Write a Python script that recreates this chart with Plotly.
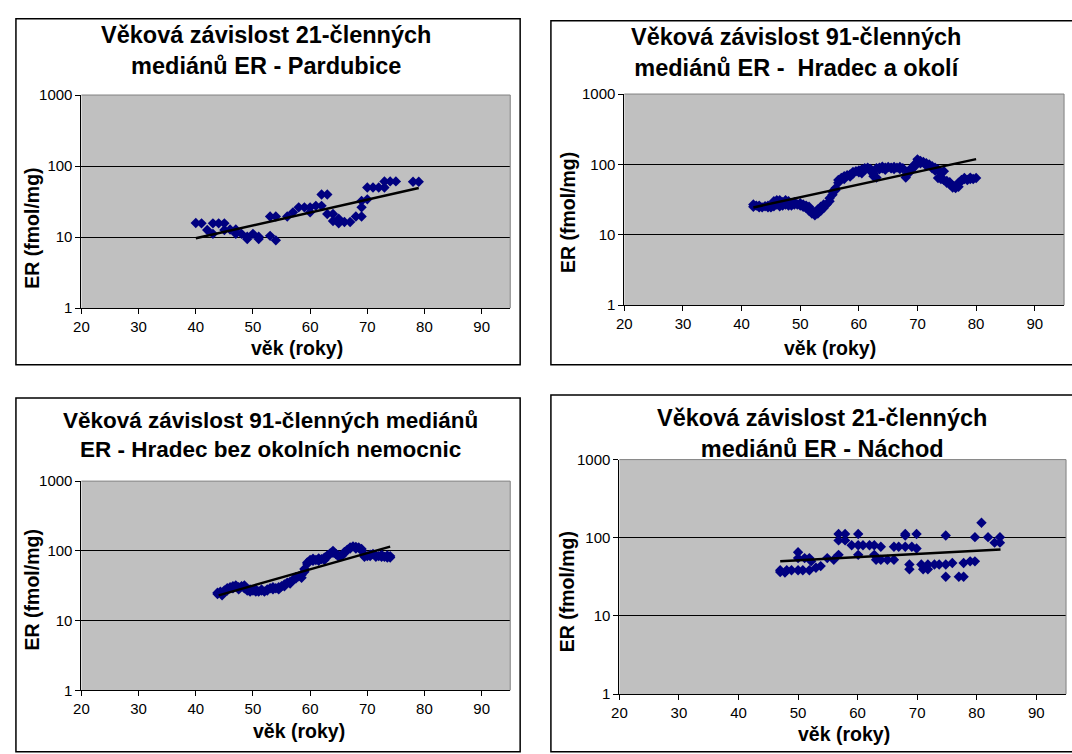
import plotly.graph_objects as go

# ---------------- data ----------------
# Panel 1: Pardubice (21-member medians)
pard_age = [40, 41, 42, 43, 43, 44, 45, 45, 46, 47, 47, 48, 49, 49, 50, 51, 51,
            53, 53, 54, 54, 56, 57, 58, 59, 60, 60, 61, 62, 62, 63, 63, 64, 64,
            65, 65, 66, 67, 68, 69, 69, 69, 70, 70, 71, 72, 73, 73, 74, 75, 78, 79]
pard_er = [15.8, 15.6, 12.6, 11.1, 15.6, 15.6, 15.6, 12.6, 12.8, 11.1, 12.8, 11.1, 9.4, 10.1, 11.1, 10.1, 9.4,
           19.5, 10.4, 19.5, 9.0, 19.5, 22.3, 26.2, 26.2, 26.2, 22.3, 27.5, 27.5, 39.8, 39.8, 21.1, 21.1, 16.8,
           15.6, 18.1, 16.3, 16.3, 19.5, 19.5, 26.2, 32.3, 34.0, 50.0, 50.0, 50.0, 50.0, 60.8, 60.8, 60.8, 60.0, 60.0]
pard_trend_age = [40, 79]
pard_trend_er = [9.6, 49]

# Panel 2: Hradec a okolí (91-member medians)
hk_age = [42.0, 42.0, 42.5, 43.0, 43.0, 43.5, 44.0, 44.5, 44.5, 45.0, 45.5, 45.5, 46.0, 46.0, 46.5, 46.5,
          47.0, 47.0, 47.5, 47.5, 48.0, 48.0, 48.5, 48.5, 49.0, 49.0, 49.5, 50.0, 50.0, 50.5, 50.5, 51.0,
          51.0, 51.5, 51.5, 52.0, 52.0, 52.5, 52.5, 53.0, 53.0, 53.5, 53.5, 54.0, 54.0, 54.5, 55.0, 55.0,
          55.5, 55.5, 56.0, 56.0, 56.5, 56.5, 57.0, 57.5, 57.5, 58.0, 58.5, 58.5, 59.0, 59.0, 59.5, 60.0,
          60.0, 60.5, 60.5, 61.0, 61.0, 61.5, 62.0, 62.0, 62.5, 62.5, 63.0, 63.0, 63.5, 63.5, 64.0, 64.0,
          64.5, 64.5, 65.0, 65.5, 65.5, 66.0, 66.0, 66.5, 67.0, 67.0, 67.5, 68.0, 68.0, 68.5, 68.5, 69.0,
          69.0, 69.5, 69.5, 70.0, 70.0, 70.5, 70.5, 71.0, 71.5, 71.5, 72.0, 72.5, 72.5, 73.0, 73.0, 73.5,
          73.5, 74.0, 74.0, 74.5, 74.5, 75.0, 75.0, 75.5, 75.5, 76.0, 76.0, 76.5, 76.5, 77.0, 77.0, 77.5,
          77.5, 78.0, 78.0, 78.5, 79.0, 79.0, 79.5, 80.0]
hk_er = [27, 25, 26, 24.5, 26, 24.5, 25.5, 24.5, 26, 24.5, 25.5, 30, 31, 27, 31, 25.5,
         29, 26, 31, 27, 30, 26, 28, 26, 27, 29, 27, 28, 26, 27, 25, 26,
         24, 22, 25, 20, 22, 19, 21, 20, 23, 22, 25, 24, 27, 27, 30, 33,
         37, 41, 46, 43, 55, 60, 64, 62, 68, 70, 72, 67, 78, 74, 80, 77,
         82, 75, 85, 88, 84, 90, 86, 80, 68, 74, 65, 88, 90, 85, 88, 93,
         90, 84, 92, 90, 88, 92, 86, 90, 92, 86, 88, 70, 65, 75, 80, 90,
         85, 100, 93, 118, 110, 112, 104, 108, 104, 96, 100, 94, 88, 90, 82, 85,
         64, 75, 62, 80, 60, 58, 55, 56, 52, 50, 47, 46, 50, 48, 55, 58,
         60, 62, 64, 60, 62, 65, 62, 64]
hk_trend_age = [42, 80]
hk_trend_er = [24.5, 119]

# Panel 3: Hradec bez okolních nemocnic (91-member medians)
hkb_age = [43.8, 43.8, 44.3, 44.6, 45.0, 45.5, 45.5, 46.0, 46.5, 46.5, 47.0, 47.5, 47.5, 48.0, 48.5,
           48.5, 49.0, 49.5, 49.5, 50.0, 50.5, 50.5, 51.0, 51.5, 51.5, 52.0, 52.5, 52.5, 53.0, 53.5,
           53.5, 54.0, 54.5, 54.5, 55.0, 55.5, 55.5, 56.0, 56.5, 56.5, 57.0, 57.5, 57.5, 58.0, 58.5,
           58.5, 59.0, 59.0, 59.5, 59.5, 60.0, 60.5, 60.5, 61.0, 61.5, 61.5, 62.0, 62.5, 62.5, 63.0,
           63.0, 63.5, 64.0, 64.0, 64.5, 65.0, 65.0, 65.5, 66.0, 66.0, 66.5, 67.0, 67.0, 67.5, 68.0,
           68.0, 68.5, 69.0, 69.0, 69.5, 69.5, 70.0, 70.5, 70.5, 71.0, 71.5, 71.5, 72.0, 72.5, 72.5,
           73.0, 73.5, 73.5, 74.0, 74.0]
hkb_er = [24, 25, 26, 23, 27, 29, 27, 30, 31, 29, 32, 30, 28, 31, 32,
          29, 27, 28, 26, 27, 26, 28, 26, 27, 28, 26, 27, 28, 29, 28,
          30, 29, 30, 28, 31, 33, 31, 35, 36, 34, 38, 40, 42, 43, 45,
          41, 55, 50, 68, 65, 74, 77, 72, 74, 72, 78, 76, 74, 80, 82,
          86, 92, 100, 94, 90, 86, 82, 84, 92, 96, 104, 112, 108, 116, 114,
          108, 112, 106, 100, 88, 82, 84, 88, 84, 90, 86, 82, 84, 88, 82,
          82, 86, 80, 84, 80]
hkb_trend_age = [44, 74]
hkb_trend_er = [23, 115]

# Panel 4: Náchod (21-member medians)
na_age = [47.0, 47.0, 47.8, 48.1, 48.9, 50.0, 50.0, 50.0, 50.8, 51.1, 51.9, 51.9, 52.2, 53.0, 53.8,
          54.9, 56.0, 56.8, 56.8, 56.8, 57.9, 57.9, 59.0, 60.1, 60.1, 60.1, 60.9, 62.0, 62.8, 62.8,
          63.1, 63.9, 63.9, 65.0, 66.1, 66.1, 66.9, 68.0, 68.0, 68.0, 68.7, 68.7, 69.1, 69.9, 69.9,
          70.7, 71.0, 71.8, 71.8, 72.9, 73.7, 74.8, 74.8, 74.8, 75.9, 77.0, 77.8, 77.8, 78.9, 79.7,
          79.7, 80.8, 81.9, 83.0, 83.9, 83.9]
na_er = [38.4, 36.5, 36.0, 38.4, 38.4, 65.3, 55.0, 38.4, 38.4, 55.0, 55.0, 38.4, 50.0, 41.4, 43.5,
         55.0, 52.5, 112.0, 92.7, 60.5, 112.0, 92.7, 80.4, 112.0, 80.4, 60.5, 80.4, 80.4, 80.4, 60.5,
         52.5, 76.8, 52.5, 52.5, 52.5, 76.8, 76.8, 76.8, 112.0, 107.0, 45.5, 39.5, 76.8, 112.0, 73.0,
         45.5, 39.5, 45.5, 39.5, 45.5, 45.5, 107.0, 45.5, 31.8, 47.7, 31.8, 31.8, 47.7, 50.0, 50.0,
         102.0, 156.0, 102.0, 86.7, 102.0, 86.7]
na_trend_age = [47, 84]
na_trend_er = [50, 71]

titles = [
    "Věková závislost 21-členných<br>mediánů ER - Pardubice",
    "Věková závislost 91-členných<br>mediánů ER -  Hradec a okolí",
    "Věková závislost 91-členných mediánů<br>ER - Hradec bez okolních nemocnic",
    "Věková závislost 21-členných<br>mediánů ER - Náchod",
]
x_title = "věk (roky)"
y_title = "ER (fmol/mg)"
x_ticks = [20, 30, 40, 50, 60, 70, 80, 90]
y_ticks = [1, 10, 100, 1000]
y_ticktext = ["1", "10", "100", "1000"]

# ---------------- layout geometry (pixels) ----------------
W, H = 1072, 754
FONT = "Liberation Sans, Arial, sans-serif"
MARK = "#000080"

panels = [
    dict(plot=(74, 506, 88, 306), frame=(8, 516, 10, 364), tc=(260, 42.5), tfs=23.5, xt=(291, 347), yt=(24, 224)),
    dict(plot=(621, 1064, 87, 303), frame=(547, 1080, 12, 364), tc=(794, 45), tfs=23.5, xt=(828, 347), yt=(565, 208)),
    dict(plot=(74, 506, 483, 697), frame=(8, 516, 398, 760), tc=(264, 436), tfs=22.5, xt=(293, 739), yt=(24, 594)),
    dict(plot=(616, 1066, 461, 701), frame=(547, 1080, 395, 760), tc=(820, 434), tfs=23.5, xt=(842, 742), yt=(563, 596)),
]
series = [
    (pard_age, pard_er, pard_trend_age, pard_trend_er),
    (hk_age, hk_er, hk_trend_age, hk_trend_er),
    (hkb_age, hkb_er, hkb_trend_age, hkb_trend_er),
    (na_age, na_er, na_trend_age, na_trend_er),
]


def px(x):
    return x / W


def py(y):
    return 1 - y / H


fig = go.Figure()
shapes = []
annotations = []

for i, (p, s) in enumerate(zip(panels, series)):
    n = "" if i == 0 else str(i + 1)
    xa, ya = "x" + n, "y" + n
    l, r, t, b = p["plot"]
    fig.add_trace(go.Scatter(x=s[0], y=s[1], mode="markers", xaxis=xa, yaxis=ya,
                             marker=dict(symbol="diamond", size=8, color=MARK, line=dict(width=0)),
                             showlegend=False, hoverinfo="skip"))
    fig.add_trace(go.Scatter(x=s[2], y=s[3], mode="lines", xaxis=xa, yaxis=ya,
                             line=dict(color="black", width=2.5), showlegend=False, hoverinfo="skip"))
    fig.update_layout(**{
        "xaxis" + n: dict(domain=[px(l), px(r)], anchor=ya, range=[20, 95], tickvals=x_ticks,
                          ticks="outside", ticklen=5, tickcolor="black", showline=True,
                          linecolor="black", linewidth=1, showgrid=False, zeroline=False,
                          tickfont=dict(family=FONT, size=15, color="black"), fixedrange=True),
        "yaxis" + n: dict(domain=[py(b), py(t)], anchor=xa, type="log", range=[0, 3],
                          tickvals=y_ticks, ticktext=y_ticktext, ticks="outside", ticklen=5,
                          tickcolor="black", showline=True, linecolor="black", linewidth=1,
                          showgrid=True, gridcolor="black", gridwidth=1, zeroline=False,
                          tickfont=dict(family=FONT, size=15, color="black"), fixedrange=True),
    })
    # grey top/right border of plot area
    shapes.append(dict(type="line", xref="paper", yref="paper", x0=px(l), x1=px(r), y0=py(t), y1=py(t),
                       line=dict(color="#808080", width=1), layer="above"))
    shapes.append(dict(type="line", xref="paper", yref="paper", x0=px(r), x1=px(r), y0=py(t), y1=py(b),
                       line=dict(color="#808080", width=1), layer="above"))
    # panel frame
    fl, fr, ft, fb = p["frame"]
    shapes.append(dict(type="rect", xref="paper", yref="paper", x0=px(fl), x1=px(fr), y0=py(fb), y1=py(ft),
                       line=dict(color="black", width=1.5), fillcolor="rgba(0,0,0,0)", layer="above"))
    # title (bold, two lines)
    bold_title = "<b>" + titles[i].replace("<br>", "</b><br><b>") + "</b>"
    annotations.append(dict(text=bold_title, xref="paper", yref="paper", x=px(p["tc"][0]), y=py(p["tc"][1]),
                            xanchor="center", yanchor="middle", showarrow=False, align="center",
                            font=dict(family=FONT, size=p["tfs"], color="black")))
    # axis titles
    annotations.append(dict(text="<b>" + x_title + "</b>", xref="paper", yref="paper", x=px(p["xt"][0]),
                            y=py(p["xt"][1]), xanchor="center", yanchor="middle", showarrow=False,
                            font=dict(family=FONT, size=19.5, color="black")))
    annotations.append(dict(text="<b>" + y_title + "</b>", xref="paper", yref="paper", x=px(p["yt"][0]),
                            y=py(p["yt"][1]), xanchor="center", yanchor="middle", showarrow=False,
                            textangle=-90, font=dict(family=FONT, size=19.5, color="black")))

fig.update_layout(width=W, height=H, margin=dict(l=0, r=0, t=0, b=0),
                  paper_bgcolor="white", plot_bgcolor="#C0C0C0",
                  shapes=shapes, annotations=annotations, showlegend=False)

fig.write_html("out.html", config={"displayModeBar": False})
